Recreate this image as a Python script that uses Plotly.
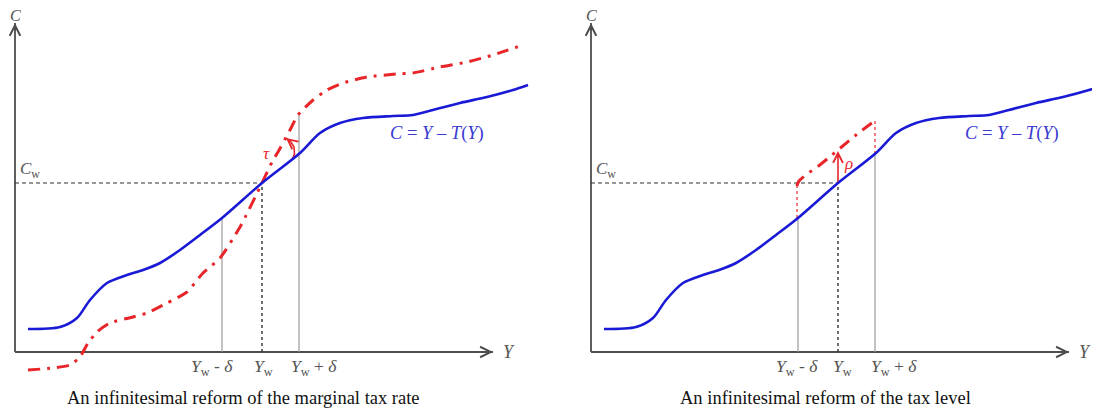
import plotly.graph_objects as go

# local units: income Y to the right, consumption C upward, origin at the axes corner
income = [13, 45, 62, 75, 92, 112, 128, 145, 165, 185, 207, 247, 285, 305, 325, 348, 378, 398, 418, 445, 472, 498, 513]
consumption = [23, 25, 34, 52, 69, 77, 82, 89, 102, 117, 134, 169, 199, 219, 229, 234, 236, 237, 242, 249, 255, 262, 267]

# reformed schedule, marginal tax rate reform
marg_income = [13, 38, 55, 65, 73, 82, 95, 118, 132, 152, 172, 188, 205, 225, 247, 257, 263, 275, 283, 297, 312,
               328, 352, 382, 398, 425, 452, 478, 508]
marg_consumption = [-18, -16, -13, -5, 9, 20, 29, 35, 39, 49, 60, 79, 94, 125, 169, 190, 200, 222, 237, 251, 262,
                    269, 275, 278, 279, 285, 290, 297, 307]

# reformed schedule, tax level reform
level_income = [206, 208, 230, 247, 265, 285]
level_consumption = [166, 171, 188, 202, 217, 232]

tau_arc_income = [277, 279.5, 279, 276, 271]
tau_arc_consumption = [192, 198, 205, 210, 214]

y_lo, y_w, y_hi = 207, 247, 285
c_w = 169
c_at_lo, c_at_hi = 134, 198
marg_at_hi = 238
level_at_lo, level_at_hi = 170, 232
level_arrow_top = 201

tick_labels = ["<i>Y</i><sub>w</sub> - <i>δ</i>", "<i>Y</i><sub>w</sub>", "<i>Y</i><sub>w</sub> + <i>δ</i>"]
tick_pos_left = [197, 248, 299]
tick_pos_right = [206, 251, 303]
titles = ["An infinitesimal reform of the marginal tax rate", "An infinitesimal reform of the tax level"]

BLUE = "#1a1ad6"
RED = "#e8262a"
GRAY = "#9a9a9a"
AXIS = "#4d4d4d"
SERIF = "Liberation Serif"

fig = go.Figure()


def seg(xs, ys, color, width, dash, panel):
    fig.add_trace(go.Scatter(x=xs, y=ys, mode="lines", line=dict(color=color, width=width, dash=dash),
                             xaxis="x" if panel == 1 else "x2", yaxis="y" if panel == 1 else "y2",
                             hoverinfo="skip"))


for p in (1, 2):
    # axes
    seg([0, 478], [0, 0], AXIS, 1.8, "solid", p)
    seg([0, 0], [0, 329], AXIS, 1.8, "solid", p)
    # guide lines
    seg([0, y_w], [c_w, c_w], "#333333", 1.2, "4px,3px", p)
    seg([y_w, y_w], [0, c_w], "#333333", 1.4, "3px,3px", p)
    seg([y_lo, y_lo], [0, c_at_lo], GRAY, 1.2, "solid", p)

# left panel specifics
seg([y_hi - 1, y_hi - 1], [0, marg_at_hi], GRAY, 1.2, "solid", 1)
fig.add_trace(go.Scatter(x=marg_income, y=marg_consumption, mode="lines", line_shape="spline",
                         line=dict(color=RED, width=3, dash="12px,7px,3px,7px", smoothing=0.6),
                         xaxis="x", yaxis="y", hoverinfo="skip"))
seg(tau_arc_income, tau_arc_consumption, RED, 1.6, "solid", 1)

# right panel specifics
seg([y_hi - 1, y_hi - 1], [0, c_at_hi], GRAY, 1.2, "solid", 2)
seg([y_lo - 1, y_lo - 1], [c_at_lo, level_at_lo], RED, 1.2, "dot", 2)
seg([y_hi - 1, y_hi - 1], [c_at_hi, level_at_hi], RED, 1.2, "dot", 2)
fig.add_trace(go.Scatter(x=level_income, y=level_consumption, mode="lines", line_shape="spline",
                         line=dict(color=RED, width=3, dash="12px,7px,3px,7px"),
                         xaxis="x2", yaxis="y2", hoverinfo="skip"))
seg([y_w, y_w], [c_w, level_arrow_top - 4], RED, 1.6, "solid", 2)

# tax schedule in both panels
for xa, ya in (("x", "y"), ("x2", "y2")):
    fig.add_trace(go.Scatter(x=income, y=consumption, mode="lines", line_shape="spline",
                             line=dict(color=BLUE, width=2.6, smoothing=0.8),
                             xaxis=xa, yaxis=ya, hoverinfo="skip"))

ann = []
for p, xa, ya, ticks, title in ((1, "x", "y", tick_pos_left, titles[0]), (2, "x2", "y2", tick_pos_right, titles[1])):
    ann += [
        dict(x=478, y=0, ax=470, ay=0, axref=xa, ayref=ya, xref=xa, yref=ya, text="", showarrow=True,
             arrowhead=5, arrowsize=1.3, arrowwidth=1.6, arrowcolor=AXIS),
        dict(x=0, y=329, ax=0, ay=320, axref=xa, ayref=ya, xref=xa, yref=ya, text="", showarrow=True,
             arrowhead=5, arrowsize=1.3, arrowwidth=1.6, arrowcolor=AXIS),
        dict(x=0, y=337, xref=xa, yref=ya, text="<i>C</i>", showarrow=False,
             font=dict(family=SERIF, size=16, color="#555555")),
        dict(x=486, y=0, xref=xa, yref=ya, text="<i>Y</i>", showarrow=False, xanchor="left",
             font=dict(family=SERIF, size=18, color="#555555")),
        dict(x=3, y=182, xref=xa, yref=ya, text="<i>C</i><sub>w</sub>", showarrow=False,
             xanchor="left", font=dict(family=SERIF, size=17, color="#555555")),
        dict(x=422 if p == 1 else 421, y=219, xref=xa, yref=ya, text="<i>C</i> = <i>Y</i> – <i>T</i>(<i>Y</i>)",
             showarrow=False, font=dict(family=SERIF, size=18.5, color="#3a3ad0")),
        dict(x=228 if p == 1 else 234, y=-46, xref=xa, yref=ya, text=title, showarrow=False,
             font=dict(family=SERIF, size=18.5, color="#111111")),
    ]
    for pos, lab in zip(ticks, tick_labels):
        ann.append(dict(x=pos, y=-15, xref=xa, yref=ya, text=lab, showarrow=False,
                        font=dict(family=SERIF, size=17.5, color="#555555")))

ann += [
    dict(x=tau_arc_income[-1], y=tau_arc_consumption[-1], ax=tau_arc_income[-2], ay=tau_arc_consumption[-2],
         axref="x", ayref="y", xref="x", yref="y", text="", showarrow=True,
         arrowhead=5, arrowsize=1.2, arrowwidth=1.6, arrowcolor=RED),
    dict(x=251, y=199, xref="x", yref="y", text="<i>τ</i>", showarrow=False,
         font=dict(family=SERIF, size=17, color=RED)),
    dict(x=y_w, y=level_arrow_top, ax=y_w, ay=level_arrow_top - 8, axref="x2", ayref="y2", xref="x2", yref="y2",
         text="", showarrow=True, arrowhead=5, arrowsize=1.2, arrowwidth=1.6, arrowcolor=RED),
    dict(x=257, y=189, xref="x2", yref="y2", text="<i>ρ</i>", showarrow=False,
         font=dict(family=SERIF, size=17, color=RED)),
]

# the page body has an 8px margin, so the figure is 8px smaller and the ranges start 8px later
hidden = dict(visible=False, fixedrange=True)
fig.update_layout(
    width=1092, height=405,
    margin=dict(l=0, r=0, t=0, b=0),
    paper_bgcolor="white", plot_bgcolor="white",
    showlegend=False,
    xaxis=dict(domain=[0, 0.5], range=[-7, 539], **hidden),
    yaxis=dict(domain=[0, 1], range=[-61, 344], **hidden),
    xaxis2=dict(domain=[0.5, 1], range=[-37, 509], anchor="y2", **hidden),
    yaxis2=dict(domain=[0, 1], range=[-61, 344], anchor="x2", **hidden),
    annotations=ann,
)

fig.write_html("out.html")
